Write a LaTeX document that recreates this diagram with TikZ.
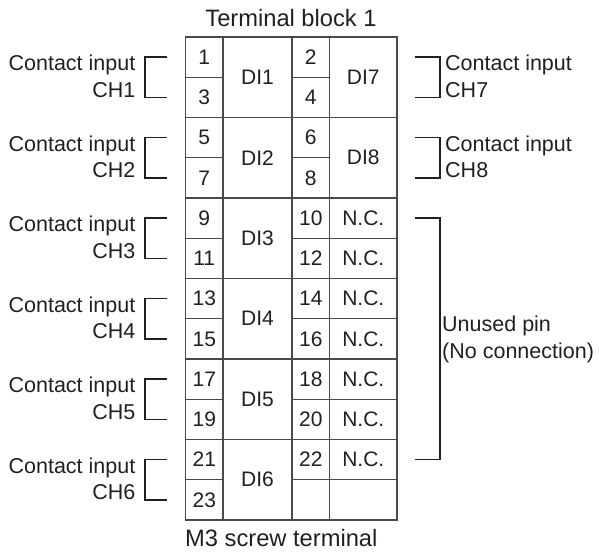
\documentclass[tikz,border=0pt]{standalone}
\usepackage{fontspec}
\setmainfont{Liberation Sans}
\definecolor{ink}{HTML}{231F20}
\definecolor{gridc}{HTML}{4A4A4A}
\begin{document}
\begin{tikzpicture}[x=1pt,y=-1pt,
  cell/.style={draw=gridc, line width=1.3pt, rectangle, inner sep=0pt, text=ink,
    font=\fontsize{21}{24}\selectfont},
  small/.style={cell, minimum width=37.5pt, minimum height=40.25pt},
  wide/.style={cell, minimum width=67.5pt, minimum height=40.25pt},
  tall/.style={cell, minimum height=80.5pt},
  lbl/.style={text=ink, inner sep=0pt, font=\fontsize{21.5}{26.3}\selectfont},
  ttl/.style={text=ink, inner sep=0pt, font=\fontsize{23.7}{28}\selectfont},
  brk/.style={draw=ink, line width=1.5pt}
]
\useasboundingbox (0,0) rectangle (599,552);

\node[ttl, anchor=base] (title) at (291,26.7) {Terminal block 1};
\node[ttl, anchor=base west] (foot) at (185,546.7) {M3 screw terminal};

\foreach \g in {1,...,6} {
  \pgfmathsetmacro\yt{37+80.5*(\g-1)+20.125}
  \pgfmathsetmacro\yb{\yt+40.25}
  \pgfmathsetmacro\ym{\yt+20.125}
  \pgfmathtruncatemacro\a{4*\g-3}
  \pgfmathtruncatemacro\b{4*\g-1}
  \pgfmathtruncatemacro\c{4*\g-2}
  \pgfmathtruncatemacro\d{4*\g}
  \pgfmathtruncatemacro\h{\g+6}
  \node[small] (t\a) at (204.25,\yt) {\a};
  \node[small] (t\b) at (204.25,\yb) {\b};
  \node[tall, minimum width=69pt] (di\g) at (257.5,\ym) {DI\g};
  \node[small] (t\c) at (310.75,\yt) {\c};
  \ifnum\g<6
    \node[small] (t\d) at (310.75,\yb) {\d};
  \else
    \node[small] (t\d) at (310.75,\yb) {};
  \fi
  \ifnum\g<3
    \node[tall, minimum width=67.5pt] (di\h) at (363.25,\ym) {DI\h};
    \coordinate (ra\g) at (415,\yt);
    \coordinate (rb\g) at (415,\yb);
    \draw[brk] (ra\g) -- ++(25,0) |- (rb\g);
    \node[lbl, align=left, anchor=base west] (rl\g) at (445,\yt+39.9) {Contact input\\CH\h};
  \else
    \node[wide] (nc\c) at (363.25,\yt) {N.C.};
    \ifnum\g<6
      \node[wide] (nc\d) at (363.25,\yb) {N.C.};
    \else
      \node[wide] (nc\d) at (363.25,\yb) {};
    \fi
  \fi
  \coordinate (la\g) at (167,\yt);
  \coordinate (lb\g) at (167,\yb);
  \draw[brk] (la\g) -- ++(-22,0) |- (lb\g);
  \node[lbl, align=right, anchor=base east] (ll\g) at (135.5,\yt+39.9) {Contact input\\CH\g};
}

\coordinate (ua) at (415,218.1);
\coordinate (ub) at (415,459.6);
\draw[brk] (ua) -- ++(25,0) |- (ub);
\node[lbl, align=left, anchor=base west] (unused) at (442,358) {Unused pin\\(No connection)};
\end{tikzpicture}
\end{document}
